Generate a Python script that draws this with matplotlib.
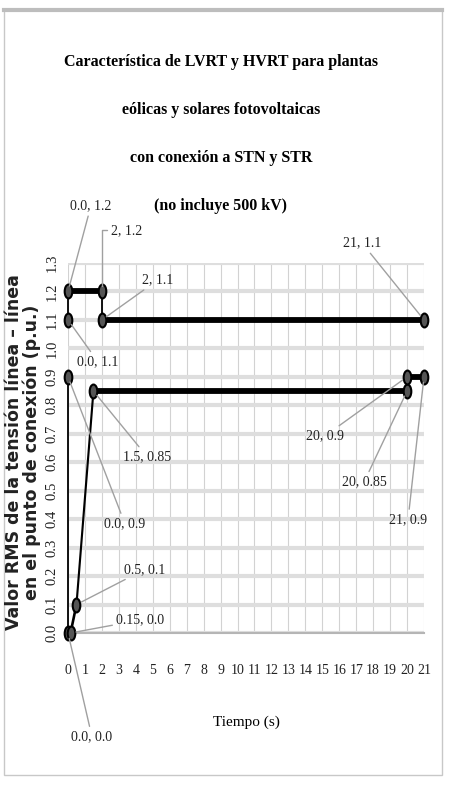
import matplotlib.pyplot as plt
import numpy as np
from matplotlib.path import Path
from matplotlib.transforms import Affine2D
from matplotlib.patches import Rectangle

# datos de las curvas (tiempo s, tension p.u.)
hvrt_t = [0.0, 0.0, 2, 2, 21]
hvrt_v = [1.1, 1.2, 1.2, 1.1, 1.1]
hvrt_lab = ["0.0, 1.1", "0.0, 1.2", "2, 1.2", "2, 1.1", "21, 1.1"]

lvrt_t = [0.0, 0.0, 0.15, 0.5, 1.5, 20, 20, 21]
lvrt_v = [0.9, 0.0, 0.0, 0.1, 0.85, 0.85, 0.9, 0.9]
lvrt_lab = ["0.0, 0.9", "0.0, 0.0", "0.15, 0.0", "0.5, 0.1", "1.5, 0.85",
            "20, 0.85", "20, 0.9", "21, 0.9"]

x_ticks = list(range(0, 22))
y_ticks = [0.0, 0.1, 0.2, 0.3, 0.4, 0.5, 0.6, 0.7, 0.8, 0.9, 1.0, 1.1, 1.2, 1.3]

title_lines = ["Característica de LVRT y HVRT para plantas",
               "eólicas y solares fotovoltaicas",
               "con conexión a STN y STR",
               "(no incluye 500 kV)"]
ylab = "Valor RMS de la tensión línea – línea\nen el punto de conexión (p.u.)"
xlab = "Tiempo (s)"

# posicion de las etiquetas (pixeles desde el punto)
hvrt_off = [(30, -42), (23, 86), (25, 61), (56, 40), (-62, 77)]
lvrt_off = [(57, -147), (24, -104), (70, 13), (68, 35), (54, -66),
            (-43, -91), (-82, -59), (-16, -143)]
hvrt_conn = ["arc3", "arc3", "angle,angleA=0,angleB=90,rad=0", "arc3", "arc3"]

W, H = 450, 787
fig = plt.figure(figsize=(4.5, 7.87), dpi=100)
ax = fig.add_axes([68 / W, 1 - 633 / H, (424 - 68) / W, (633 - 263) / H])
ax.set_xlim(0, 21)
ax.set_ylim(0, 1.3)

serif = "Liberation Serif"

# marco
fig.patches.append(Rectangle((4 / W, 1 - 775 / H), 438 / W, 765 / H,
                             transform=fig.transFigure, fill=False,
                             edgecolor="#c8c8c8", lw=1))
fig.add_artist(plt.Line2D([4 / W, 442 / W], [1 - 10 / H, 1 - 10 / H],
                          transform=fig.transFigure, color="#bdbdbd", lw=3))

ax.set_xticks(x_ticks)
ax.set_yticks(y_ticks)
ax.set_xticklabels([str(t) for t in x_ticks], fontfamily=serif, fontsize=10)
ax.set_yticklabels(["%.1f" % v for v in y_ticks], fontfamily=serif,
                   fontsize=10.5, rotation=90, va="center")
ax.tick_params(length=0, labelcolor="#222222")
ax.tick_params(axis="x", pad=22)
ax.tick_params(axis="y", pad=7)
ax.yaxis.grid(True, color="#dedede", lw=3)
ax.xaxis.grid(True, color="#d2d2d2", lw=0.8)
ax.set_axisbelow(True)
for s in ["top", "right", "left"]:
    ax.spines[s].set_visible(False)
ax.spines["bottom"].set_color("#b5b5b5")
ax.spines["bottom"].set_linewidth(1.5)


def draw(ts, vs):
    pts = ax.transData.transform(np.column_stack([ts, vs]))
    for i in range(len(ts) - 1):
        d = pts[i + 1] - pts[i]
        n = np.hypot(d[0], d[1])
        f = abs(d[0]) / n if n > 0 else 1
        ax.plot(ts[i:i + 2], vs[i:i + 2], color="black",
                lw=1.3 + 2.9 * f, solid_capstyle="butt", clip_on=False, zorder=3)
    mk = Path.unit_circle().transformed(Affine2D().scale(0.55, 1))
    ax.plot(ts, vs, linestyle="none", marker=mk, ms=10, mfc="#555555",
            mec="black", mew=1.5, clip_on=False, zorder=4)


def labels(ts, vs, labs, offs, conns=None):
    if conns is None:
        conns = ["arc3"] * len(ts)
    for t, v, s, o, c in zip(ts, vs, labs, offs, conns):
        ax.annotate(s, xy=(t, v), xytext=o, textcoords="offset pixels",
                    ha="center", va="center", fontfamily=serif, fontsize=10,
                    color="#222222",
                    arrowprops=dict(arrowstyle="-", color="#a0a0a0", lw=1,
                                    shrinkA=1, shrinkB=4, connectionstyle=c),
                    annotation_clip=False, zorder=5)


draw(hvrt_t, hvrt_v)
draw(lvrt_t, lvrt_v)
labels(hvrt_t, hvrt_v, hvrt_lab, hvrt_off, hvrt_conn)
labels(lvrt_t, lvrt_v, lvrt_lab, lvrt_off)

ax.set_xlabel(xlab, fontfamily=serif, fontsize=11, labelpad=28)

for i, line in enumerate(title_lines):
    fig.text(221 / W, 1 - (62 + i * 48) / H, line, ha="center", va="center",
             fontfamily=serif, fontweight="bold", fontsize=11.5)

fig.text(23 / W, 1 - 452 / H, ylab, rotation=90, ha="center", va="center",
         multialignment="center", linespacing=0.95, fontfamily="DejaVu Sans",
         fontweight="bold", fontsize=12.5, color="#222222")

fig.savefig("out.png", dpi=100)
